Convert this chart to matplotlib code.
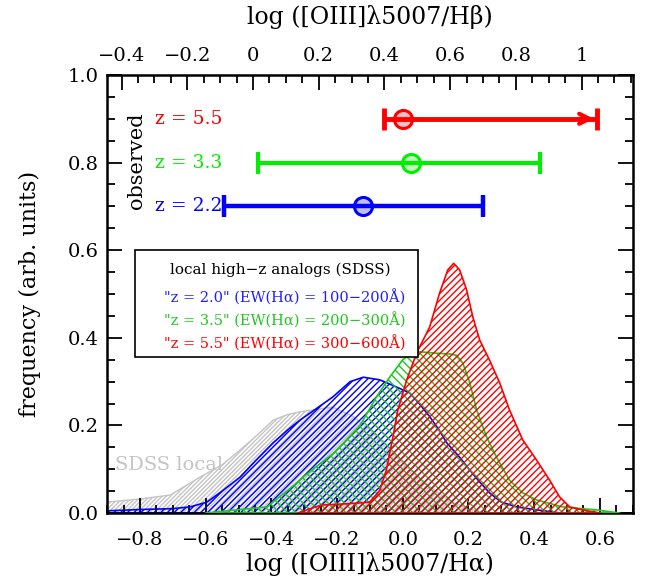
import matplotlib
matplotlib.use("Agg")
import matplotlib.pyplot as plt
from matplotlib.patches import Rectangle
from matplotlib.ticker import MultipleLocator, FixedLocator, FuncFormatter
import numpy as np

# log(Ha/Hb) offset between the two x axes (case B)
HA_HB = 0.456

RED = "#ff0000"
GREEN = "#1ec81e"
GREEN_OBS = "#00ee00"
BLUE = "#0000ff"
GRAY = "#c4c4c4"

# distributions, x = log([OIII]/Ha)
gray_x = [-0.9, -0.8, -0.708, -0.617, -0.55, -0.495, -0.44, -0.395, -0.35, -0.313,
          -0.25, -0.213, -0.15, -0.1, -0.05, 0.0, 0.05, 0.1, 0.15, 0.2, 0.25]
gray_y = [0.025, 0.032, 0.041, 0.082, 0.11, 0.144, 0.18, 0.212, 0.225, 0.231,
          0.238, 0.242, 0.22, 0.19, 0.15, 0.115, 0.08, 0.05, 0.025, 0.01, 0.0]

blue_x = [-0.9, -0.8, -0.7, -0.647, -0.596, -0.55, -0.495, -0.45, -0.395, -0.35,
          -0.313, -0.26, -0.213, -0.16, -0.12, -0.07, -0.02, 0.021, 0.05, 0.082,
          0.11, 0.134, 0.17, 0.204, 0.235, 0.264, 0.3, 0.346, 0.41, 0.48]
blue_y = [0.005, 0.008, 0.01, 0.014, 0.025, 0.05, 0.082, 0.118, 0.16, 0.19,
          0.212, 0.24, 0.265, 0.30, 0.31, 0.304, 0.288, 0.274, 0.25, 0.22,
          0.19, 0.16, 0.13, 0.098, 0.07, 0.046, 0.025, 0.014, 0.007, 0.0]

green_x = [-0.6, -0.535, -0.413, -0.35, -0.29, -0.21, -0.13, -0.08, -0.04, 0.0,
           0.03, 0.052, 0.1, 0.143, 0.164, 0.183, 0.204, 0.225, 0.255, 0.285,
           0.325, 0.365, 0.407, 0.486, 0.59, 0.66]
green_y = [0.0, 0.005, 0.014, 0.052, 0.09, 0.137, 0.2, 0.265, 0.31, 0.35,
           0.365, 0.368, 0.365, 0.363, 0.36, 0.342, 0.297, 0.235, 0.174, 0.128,
           0.075, 0.046, 0.03, 0.014, 0.007, 0.0]

red_x = [-0.32, -0.3, -0.25, -0.2, -0.15, -0.1, -0.07, -0.05, -0.03, -0.015,
         0.012, 0.042, 0.082, 0.112, 0.137, 0.155, 0.173, 0.194, 0.213, 0.234,
         0.264, 0.295, 0.325, 0.365, 0.407, 0.447, 0.477, 0.508, 0.547, 0.6]
red_y = [0.0, 0.005, 0.018, 0.02, 0.022, 0.025, 0.052, 0.098, 0.174, 0.235,
         0.304, 0.365, 0.425, 0.502, 0.555, 0.57, 0.555, 0.51, 0.448, 0.395,
         0.349, 0.297, 0.235, 0.167, 0.121, 0.075, 0.037, 0.014, 0.007, 0.0]

# observed ranges (in log [OIII]/Ha)
obs_labels = ["z = 5.5", "z = 3.3", "z = 2.2"]
obs_y = [0.9, 0.8, 0.7]
obs_x = [0.0, 0.024, -0.122]
obs_lo = [-0.058, -0.44, -0.544]
obs_hi = [0.59, 0.418, 0.243]
obs_colors = [RED, GREEN_OBS, BLUE]

analog_labels = [
    '"z = 2.0" (EW(H\u03b1) = 100\u2212200\u00c5)',
    '"z = 3.5" (EW(H\u03b1) = 200\u2212300\u00c5)',
    '"z = 5.5" (EW(H\u03b1) = 300\u2212600\u00c5)',
]
analog_colors = ["#2020ff", GREEN, RED]

top_ticks = [-0.4, -0.2, 0.0, 0.2, 0.4, 0.6, 0.8, 1.0]

plt.rcParams["font.family"] = ["DejaVu Serif"]
plt.rcParams["hatch.linewidth"] = 1.0

fig = plt.figure(figsize=(6.49, 5.81), dpi=100)
ax = fig.add_axes([0.165, 0.117, 0.81, 0.754])

ax.fill_between(gray_x, gray_y, facecolor="none", edgecolor=GRAY, hatch="////////", lw=1.0, zorder=1)
ax.fill_between(blue_x, blue_y, facecolor="none", edgecolor=BLUE, hatch="/////", lw=1.2, zorder=2)
ax.fill_between(green_x, green_y, facecolor="none", edgecolor=GREEN, hatch="\\\\\\\\", lw=1.2, zorder=3)
ax.fill_between(red_x, red_y, facecolor="none", edgecolor=RED, hatch="/////", lw=1.2, zorder=4)

ax.text(-0.875, 0.11, "SDSS local", color=GRAY, fontsize=14, va="center", ha="left")

lws = [3.5, 3.0, 3.2]
for lab, y, x, lo, hi, c, lw in zip(obs_labels, obs_y, obs_x, obs_lo, obs_hi, obs_colors, lws):
    ax.errorbar([x], [y], xerr=[[x - lo], [hi - x]], fmt="none", ecolor=c,
                elinewidth=lw, capsize=8, capthick=lw, zorder=6)
    ax.plot([x], [y], "o", ms=13, mfc=c, mec="none", alpha=0.25, zorder=7)
    ax.plot([x], [y], "o", ms=13, mfc="none", mec=c, mew=2.2, zorder=8)
    ax.text(-0.755, y, lab, color=c, fontsize=13.5, va="center", ha="left")

# red range is open towards high ratios
ax.annotate("", xy=(obs_hi[0], obs_y[0]), xytext=(obs_hi[0] - 0.06, obs_y[0]),
            arrowprops=dict(arrowstyle="->", color=RED, lw=3.0, mutation_scale=18), zorder=6)

ax.text(-0.81, 0.805, "observed", rotation=90, fontsize=15, va="center", ha="center")

# legend box for local analogs
ax.add_patch(Rectangle((-0.815, 0.356), 0.861, 0.244, facecolor="white",
                       edgecolor="black", lw=1.2, zorder=9))
ax.text(-0.374, 0.555, "local high\u2212z analogs (SDSS)", fontsize=11,
        ha="center", va="center", zorder=10)
for i, (lab, c) in enumerate(zip(analog_labels, analog_colors)):
    ax.text(-0.728, 0.493 - 0.0525 * i, lab, color=c, fontsize=10.5,
            ha="left", va="center", zorder=10)

ax.set_xlim(-0.9, 0.7)
ax.set_ylim(0.0, 1.0)
ax.xaxis.set_major_locator(MultipleLocator(0.2))
ax.xaxis.set_minor_locator(MultipleLocator(0.05))
ax.yaxis.set_major_locator(MultipleLocator(0.2))
ax.yaxis.set_minor_locator(MultipleLocator(0.05))
ax.xaxis.set_major_formatter(FuncFormatter(lambda v, p: f"{v:.1f}".replace("-", "\u2212")))
ax.yaxis.set_major_formatter(FuncFormatter(lambda v, p: f"{v:.1f}"))
ax.tick_params(which="both", direction="in", right=True, top=False, width=1.3, labelsize=14)
ax.tick_params(which="major", length=11)
ax.tick_params(which="minor", length=6)
ax.tick_params(axis="x", pad=13)
ax.tick_params(axis="y", pad=6)
for s in ax.spines.values():
    s.set_linewidth(1.8)

ax.set_xlabel("log ([OIII]\u03bb5007\u2215H\u03b1)", fontsize=17, labelpad=2)
ax.set_ylabel("frequency (arb. units)", fontsize=16, labelpad=19)

top = ax.secondary_xaxis("top", functions=(lambda v: v + HA_HB, lambda v: v - HA_HB))
top.xaxis.set_major_locator(FixedLocator(top_ticks))
top.xaxis.set_minor_locator(MultipleLocator(0.05))
top.xaxis.set_major_formatter(FuncFormatter(
    lambda v, p: "0" if abs(v) < 1e-9 else f"{v:g}".replace("-", "\u2212")))
top.tick_params(which="both", direction="in", width=1.3, labelsize=14, pad=7)
top.tick_params(which="major", length=11)
top.tick_params(which="minor", length=6)
top.set_xlabel("log ([OIII]\u03bb5007\u2215H\u03b2)", fontsize=17, labelpad=17)

fig.savefig("out.png", dpi=100)
